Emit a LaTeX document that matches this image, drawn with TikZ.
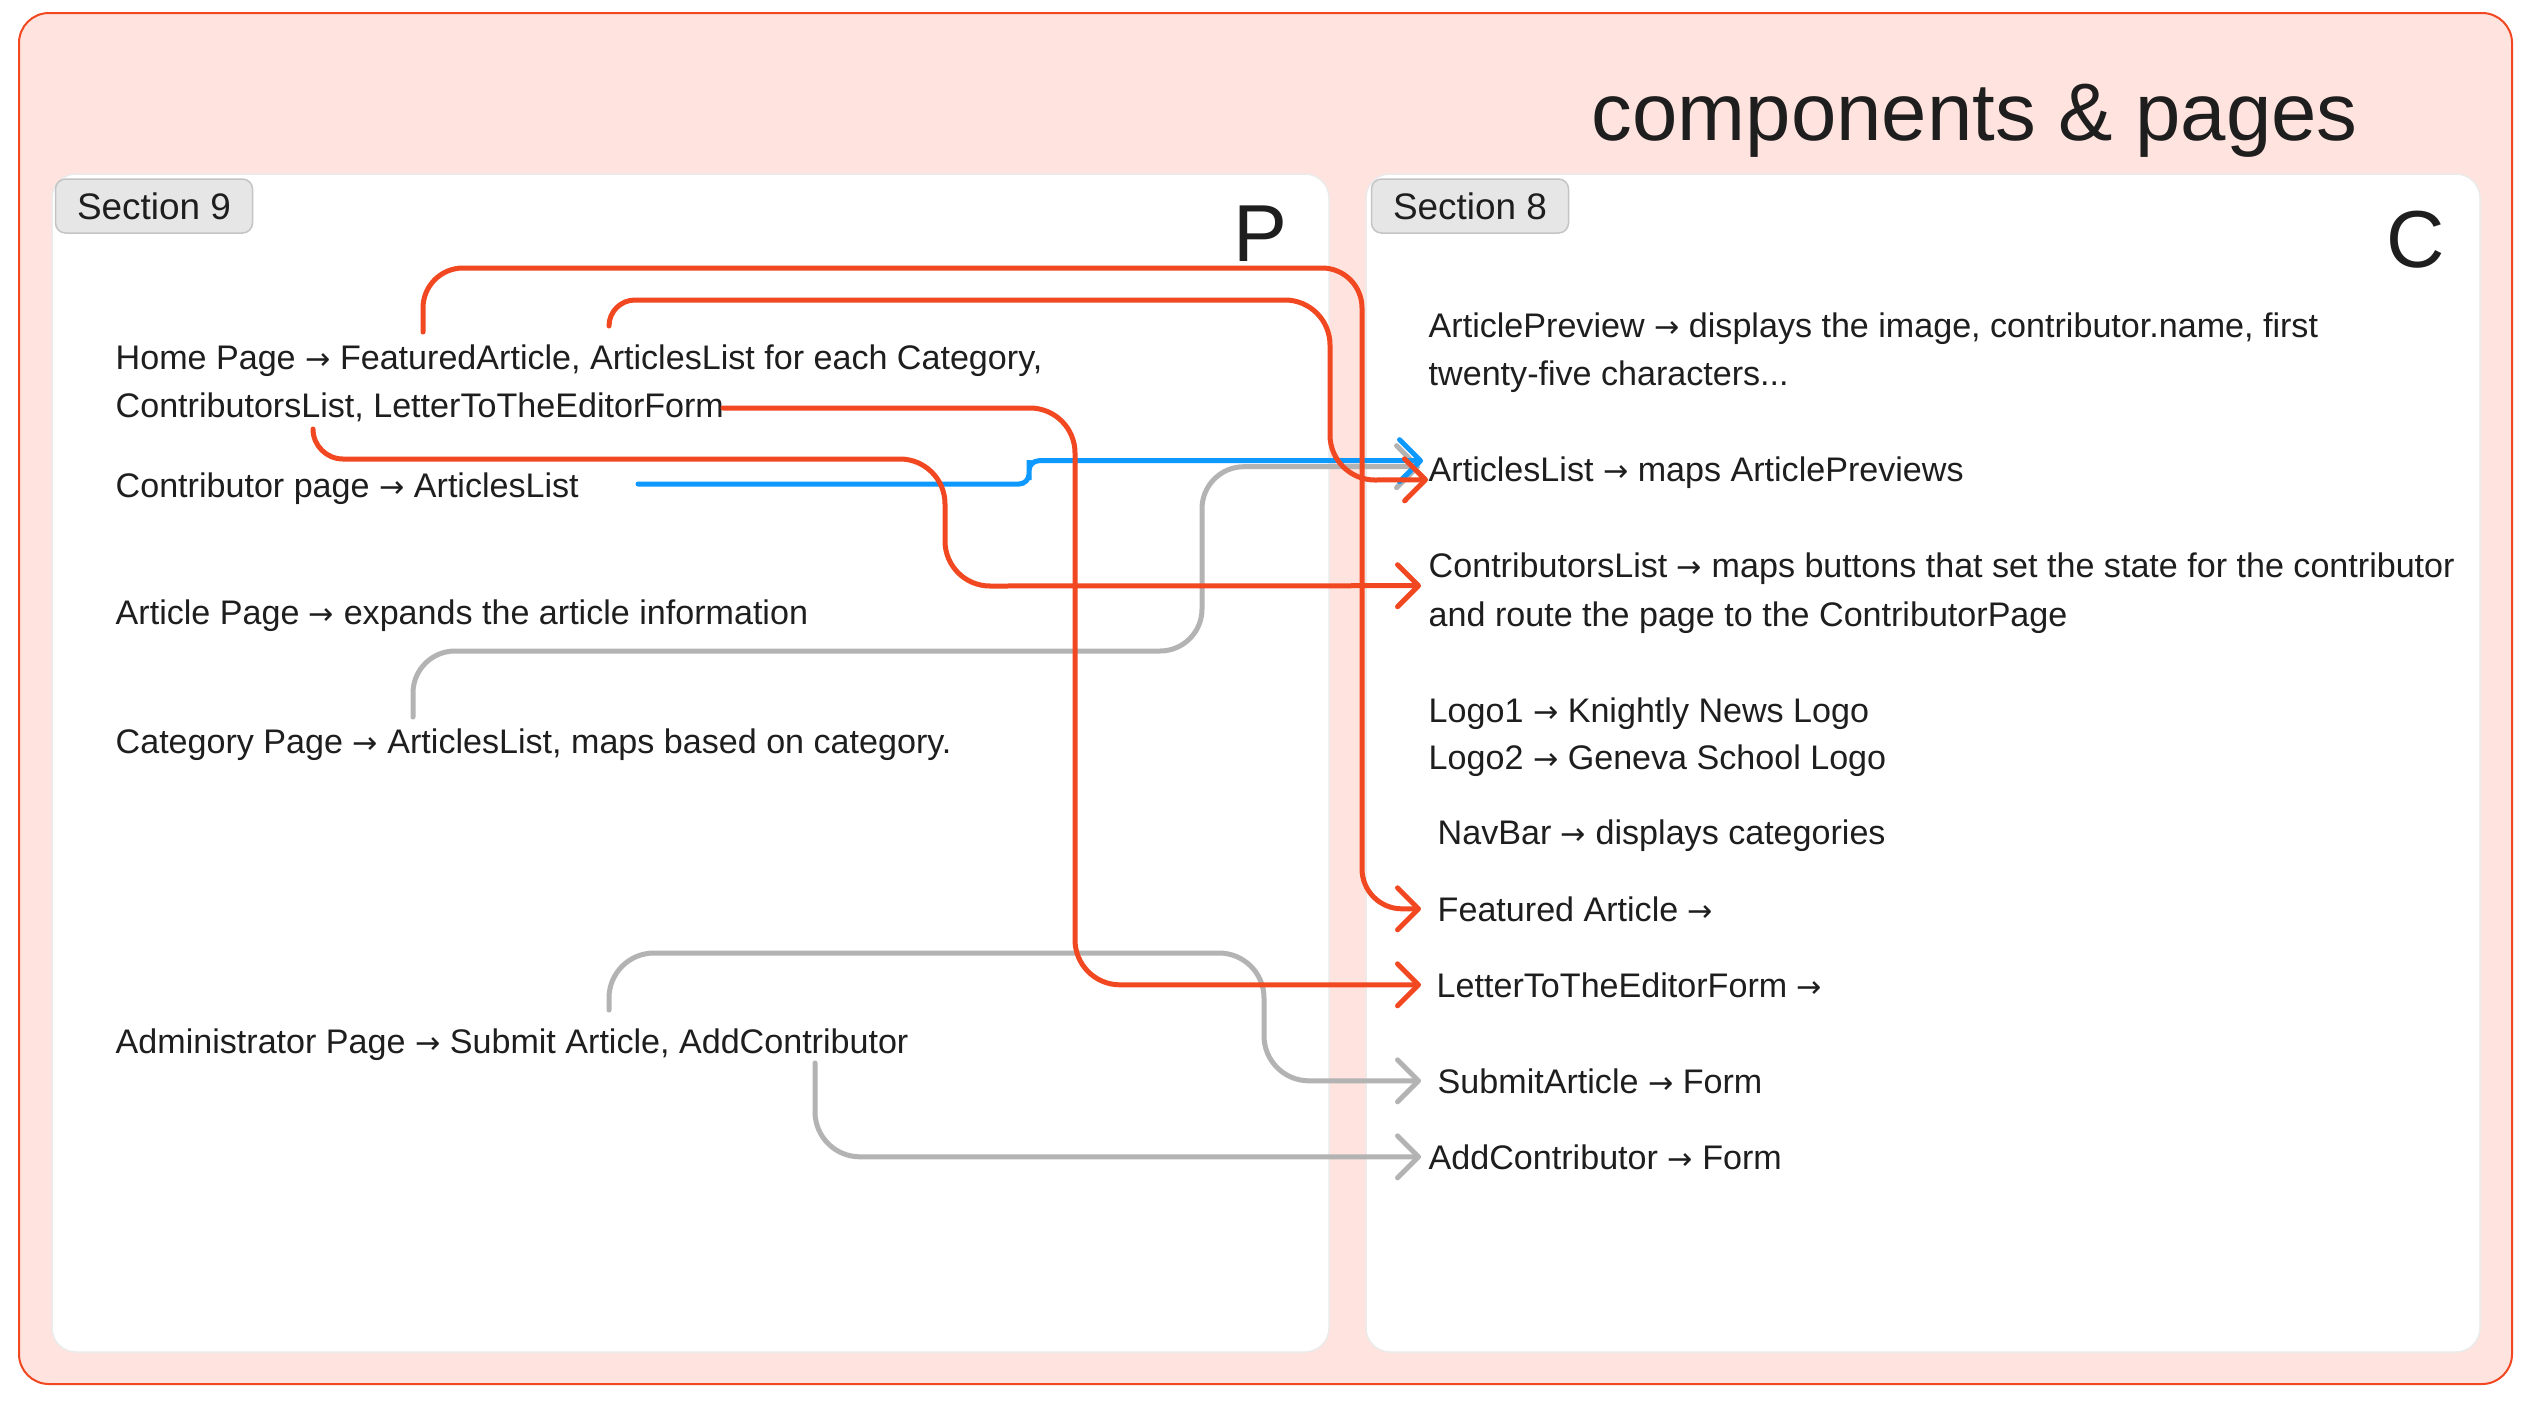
\documentclass[tikz,border=0pt]{standalone}
\usepackage{fontspec}
\setmainfont{Liberation Sans}
\newfontfamily\arrowfont{DejaVu Sans}
\newcommand{\ra}{{\arrowfont\fontsize{8.6}{10}\selectfont →}}
\usetikzlibrary{arrows.meta}

\definecolor{hotred}{HTML}{F24822}
\definecolor{linkblue}{HTML}{0D99FF}
\definecolor{linkgray}{HTML}{B3B3B3}
\definecolor{framefill}{HTML}{FFE3DE}
\definecolor{tagfill}{HTML}{E6E6E6}
\definecolor{tagline}{HTML}{C4C4C4}
\definecolor{panelline}{HTML}{EBEBEB}
\definecolor{ink}{HTML}{1E1E1E}

\begin{document}
\begin{tikzpicture}[
  x=0.1mm, y=-0.1mm,
  font=\fontsize{9.7}{11.6}\selectfont,
  every node/.style={text=ink},
  txt/.style={anchor=base west,inner sep=0pt},
  tag/.style={draw=tagline,fill=tagfill,line width=0.15mm,rounded corners=1mm,minimum width=19.7mm,minimum height=5.4mm,inner sep=0pt,font=\fontsize{10.5}{12}\selectfont},
  panel/.style={draw=panelline,fill=white,line width=0.15mm,rounded corners=2.4mm},
  bigmark/.style={inner sep=0pt,font=\fontsize{23}{26}\selectfont},
  link/.style={line width=0.5mm,line cap=round,rounded corners=4.5mm,-{Straight Barb[length=2.1mm,width=4.2mm,round]}},
  redlink/.style={link,draw=hotred},
  bluelink/.style={link,draw=linkblue,rounded corners=1mm},
  graylink/.style={link,draw=linkgray}]

  \useasboundingbox (0,0) rectangle (2530,1407);

  % frame and the two sections
  \draw[draw=hotred,fill=framefill,line width=0.2mm,rounded corners=3mm] (19,13) rectangle (2512,1384);
  \draw[panel] (52,174) rectangle (1329,1352);
  \draw[panel] (1366,174) rectangle (2480,1352);

  \node[txt,font=\fontsize{23.2}{28}\selectfont] (title) at (1591,140) {components \& pages};
  \node[tag] (sec9) at (154,206) {Section 9};
  \node[tag] (sec8) at (1470,206) {Section 8};
  \node[bigmark] (pmark) at (1260,234) {P};
  \node[bigmark] (cmark) at (2416,240) {C};

  % pages
  \node[txt] (home1) at (115,369) {Home Page \ra{} FeaturedArticle, ArticlesList for each Category,};
  \node[txt] (home2) at (115,417) {ContributorsList, LetterToTheEditorForm};
  \node[txt] (contribpage) at (115,497) {Contributor page \ra{} ArticlesList};
  \node[txt] (articlepage) at (115,624) {Article Page \ra{} expands the article information};
  \node[txt] (catpage) at (115,753) {Category Page \ra{} ArticlesList, maps based on category.};
  \node[txt] (adminpage) at (115,1053) {Administrator Page \ra{} Submit Article, AddContributor};

  % components
  \node[txt] (preview1) at (1428,337) {ArticlePreview \ra{} displays the image, contributor.name, first};
  \node[txt] (preview2) at (1428,385) {twenty-five characters...};
  \node[txt] (artlist) at (1428,481) {ArticlesList \ra{} maps ArticlePreviews};
  \node[txt] (clist1) at (1428,577) {ContributorsList \ra{} maps buttons that set the state for the contributor};
  \node[txt] (clist2) at (1428,626) {and route the page to the ContributorPage};
  \node[txt] (logo1) at (1428,722) {Logo1 \ra{} Knightly News Logo};
  \node[txt] (logo2) at (1428,769) {Logo2 \ra{} Geneva School Logo};
  \node[txt] (navbar) at (1437,844) {NavBar \ra{} displays categories};
  \node[txt] (featured) at (1437,921) {Featured Article \ra};
  \node[txt] (letterform) at (1436,997) {LetterToTheEditorForm \ra};
  \node[txt] (submitform) at (1437,1093) {SubmitArticle \ra{} Form};
  \node[txt] (addform) at (1428,1169) {AddContributor \ra{} Form};

  % where the links leave the page texts
  \coordinate (fromfeat) at (423,332);
  \coordinate (fromalist) at (609,326);
  \coordinate (fromclist) at (313,429);
  \coordinate (fromletter) at (723,408);
  \coordinate (fromcontrib) at (638,484);
  \coordinate (fromcat) at (413,717);
  \coordinate (fromsubmit) at (609,1010);
  \coordinate (fromaddc) at (815,1063);

  % links
  \draw[graylink,rounded corners=4.2mm] (fromcat) |- (1202,651) |- ([xshift=-0.8mm,yshift=0.55mm]artlist.west);
  \draw[graylink] (fromsubmit) |- (1264,953) |- ([xshift=-1.6mm]submitform.west);
  \draw[graylink] (fromaddc) |- ([xshift=-0.7mm]addform.west);
  \draw[bluelink] (fromcontrib) -| (1029,470) |- ([xshift=-0.5mm,yshift=1.15mm]artlist.west);
  \draw[redlink,rounded corners=4mm] (fromfeat) |- (1362,268) |- ([xshift=-1.6mm]featured.west);
  \draw[redlink,sharp corners] (fromalist) arc[start angle=180,end angle=90,radius=2.6mm] -- (1285,300)
    arc[start angle=90,end angle=0,radius=4.5mm] -- (1330,435)
    arc[start angle=180,end angle=270,radius=4.5mm] -- ([yshift=-0.75mm]artlist.west);
  \draw[redlink,sharp corners] (fromclist) arc[start angle=180,end angle=270,radius=3mm] -- (900,459)
    arc[start angle=90,end angle=0,radius=4.5mm] -- (945,541)
    arc[start angle=180,end angle=270,radius=4.5mm] -- ([xshift=-0.7mm,yshift=-1.75mm]clist1.west);
  \draw[redlink] (fromletter) -| (1075,700) |- ([xshift=-1.5mm]letterform.west);
\end{tikzpicture}
\end{document}
